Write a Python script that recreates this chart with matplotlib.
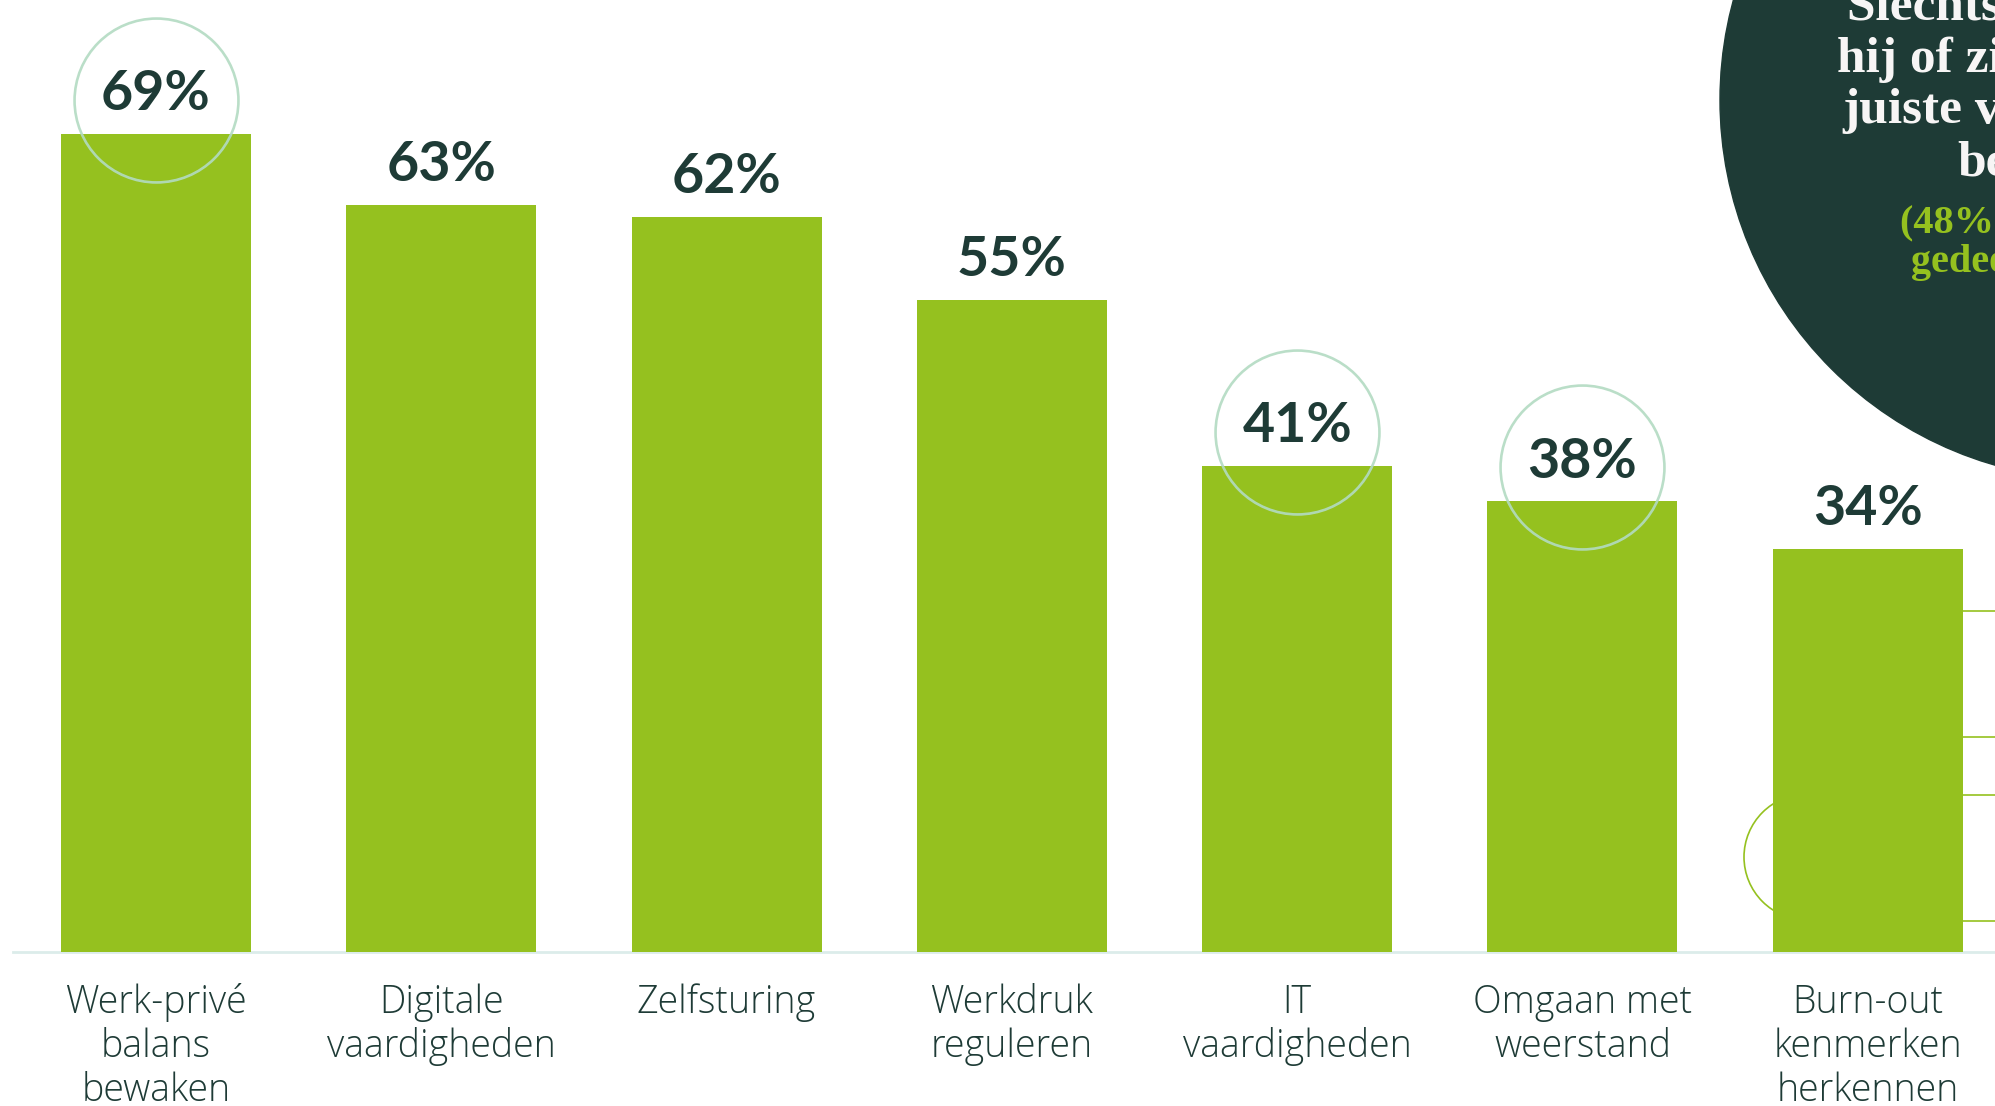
import matplotlib
matplotlib.use("Agg")
import matplotlib.pyplot as plt
import matplotlib.patches as patches
import matplotlib.transforms as mtransforms
from matplotlib.lines import Line2D

# data
categories = ["Werk-privé\nbalans\nbewaken", "Digitale\nvaardigheden", "Zelfsturing",
              "Werkdruk\nreguleren", "IT\nvaardigheden", "Omgaan met\nweerstand",
              "Burn-out\nkenmerken\nherkennen"]
values = [69, 63, 62, 55, 41, 38, 34]
circled = [0, 4, 5]  # which labels get a ring

bar_green = '#95c11f'
dark = '#1e3b36'
ring = '#b3dbc2'

# layout in pixels of the 1995x1106 canvas
W, H = 1995, 1106
x0, step = 156, 285.3      # first bar centre, bar spacing
base_y = 952               # baseline from top
ppu = 11.86                # pixels per percent

fig = plt.figure(figsize=(W / 100, H / 100), dpi=100)
ax = fig.add_axes([0, 0, 1, 1])
ax.set_xlim(-x0 / step, (W - x0) / step)
ax.set_ylim(-(H - base_y) / ppu, base_y / ppu)
ax.axis('off')

# pixel transform (origin top-left) for the decorative bits
pix = mtransforms.Affine2D().scale(1 / 100, -1 / 100).translate(0, H / 100) + fig.dpi_scale_trans

# decorations from the neighbouring panel
ax.add_patch(patches.Circle((1807, 857), 63, transform=pix, fill=False,
                            edgecolor=bar_green, lw=1.2, zorder=1))
for yy in [611, 737, 795, 921]:
    ax.add_line(Line2D([1960, W], [yy, yy], transform=pix, color=bar_green, lw=1.2, zorder=1))

ax.axhline(0, xmin=13 / W, xmax=1, color='#dcecea', lw=2, zorder=1)

xs = list(range(len(values)))
ax.bar(xs, values, width=190 / step, color=bar_green, zorder=2)

for i, v in enumerate(values):
    ax.text(i, v + 23.5 / ppu, f'{v}%', ha='center', va='baseline', fontsize=40,
            fontweight='bold', family='Lato', color=dark, zorder=4)
    # one text per line so the baselines sit where the reference has them
    for k, line in enumerate(categories[i].split('\n')):
        ax.text(i, -(1013 + 44 * k - base_y) / ppu, line, ha='center', va='baseline',
                fontsize=27, fontweight=300, family='Open Sans', color=dark, zorder=4)

for i in circled:
    ax.plot(i, values[i] + 34 / ppu, 'o', ms=118, mfc='none', mec=ring, mew=1.9,
            alpha=0.9, zorder=3)

# big dark circle with callout text (cut by the right edge)
ax.add_patch(patches.Circle((2100, 100), 380, transform=pix, color=dark, zorder=5))
white_lines = [("Slechts een derde", 1847, 20), ("hij of zij over de", 1837, 72),
               ("juiste vaardigheden", 1842, 123), ("beschikt", 1957, 175)]
for s, xx, yy in white_lines:
    fig.text(xx, yy, s, transform=pix, ha='left', va='baseline', fontsize=37,
             fontweight='bold', family='Liberation Serif', color='#f7f5f5', zorder=6)
green_lines = [("(48% heeft deze", 1900, 232), ("gedeeltelijk)", 1911, 272)]
for s, xx, yy in green_lines:
    fig.text(xx, yy, s, transform=pix, ha='left', va='baseline', fontsize=29,
             fontweight='bold', family='Liberation Serif', color=bar_green, zorder=6)

fig.savefig('out.png', dpi=100)
